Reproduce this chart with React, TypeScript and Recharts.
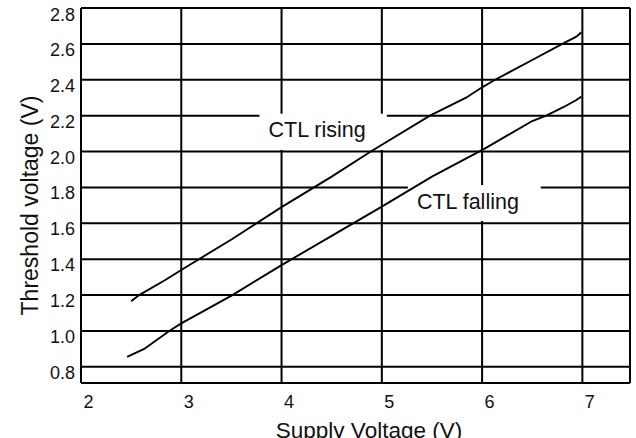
import React from 'react';
import { LineChart, Line, XAxis, YAxis, CartesianGrid, ReferenceArea, ReferenceLine, Label } from 'recharts';

const FONT = '"Liberation Sans", Arial, sans-serif';

const xTicks = [2, 3, 4, 5, 6, 7];
const yTicks = [0.8, 1.0, 1.2, 1.4, 1.6, 1.8, 2.0, 2.2, 2.4, 2.6, 2.8];
const X_MIN = 2;
const X_MAX = 7.475;
const Y_MIN = 0.71;
const Y_MAX = 2.8;

const risingV = [2.5, 2.58, 2.84, 3.0, 3.5, 4.0, 4.5, 4.89, 5.48, 5.84, 6.0, 6.13, 6.5, 6.8, 6.94, 6.99];
const risingT = [1.166, 1.2, 1.284, 1.34, 1.51, 1.69, 1.86, 2.0, 2.2, 2.3, 2.358, 2.4, 2.51, 2.6, 2.64, 2.665];

const fallingV = [2.46, 2.63, 2.88, 3.0, 3.51, 4.0, 4.5, 5.0, 5.5, 6.03, 6.5, 6.64, 6.81, 6.94, 6.99];
const fallingT = [0.856, 0.9, 1.0, 1.042, 1.2, 1.367, 1.53, 1.693, 1.86, 2.018, 2.17, 2.2, 2.247, 2.287, 2.306];

const risingLabel = 'CTL rising';
const fallingLabel = 'CTL falling';
const risingBox = { x1: 3.78, x2: 5.05, y1: 2.009, y2: 2.21 };
const fallingBox = { x1: 5.26, x2: 6.585, y1: 1.613, y2: 1.813 };

const risingData = risingV.map((v, i) => ({ v, t: risingT[i] }));
const fallingData = fallingV.map((v, i) => ({ v, t: fallingT[i] }));

const XTick = (props: any) => {
  const { x, y, payload } = props;
  return (
    <text x={x + 7.5} y={y + 24.5} textAnchor="middle" fontSize={18} fontFamily={FONT} fill="#111">
      {payload.value}
    </text>
  );
};

const YTick = (props: any) => {
  const { x, y, payload } = props;
  return (
    <text x={x} y={y + 12} textAnchor="end" fontSize={18} fontFamily={FONT} fill="#111">
      {Number(payload.value).toFixed(1)}
    </text>
  );
};

const XLabel = (props: any) => {
  const vb = props.viewBox;
  const cx = vb.x + vb.width / 2 + 13.5;
  return (
    <text x={cx} y={437.5} textAnchor="middle" fontSize={22.5} fontFamily={FONT} fill="#111">
      Supply Voltage (V)
    </text>
  );
};

const YLabel = (props: any) => {
  const vb = props.viewBox;
  const cy = vb.y + vb.height / 2 + 10;
  const cx = 38;
  return (
    <text x={cx} y={cy} transform={`rotate(-90, ${cx}, ${cy})`} textAnchor="middle" fontSize={23} fontFamily={FONT} fill="#111">
      Threshold voltage (V)
    </text>
  );
};

const BoxLabel = (props: any) => {
  const vb = props.viewBox;
  return (
    <text x={vb.x + 9} y={vb.y + 23.5} fontSize={21.5} fontFamily={FONT} fill="#111">
      {props.text}
    </text>
  );
};

export default function App() {
  return (
    <div style={{ position: 'absolute', left: 0, top: 0, width: 636, height: 438, background: '#fff' }}>
      <LineChart width={636} height={438} margin={{ top: 8, right: 6, bottom: 0, left: 0 }}>
        <CartesianGrid stroke="#000" strokeWidth={2} />
        <XAxis
          type="number"
          dataKey="v"
          domain={[X_MIN, X_MAX]}
          ticks={xTicks}
          allowDataOverflow
          height={55}
          tickSize={0}
          tickMargin={0}
          tickLine={false}
          axisLine={{ stroke: '#000', strokeWidth: 2 }}
          tick={<XTick />}
        >
          <Label content={<XLabel />} />
        </XAxis>
        <YAxis
          type="number"
          domain={[Y_MIN, Y_MAX]}
          ticks={yTicks}
          allowDataOverflow
          width={81}
          tickSize={0}
          tickMargin={6}
          tickLine={false}
          axisLine={{ stroke: '#000', strokeWidth: 2 }}
          tick={<YTick />}
        >
          <Label content={<YLabel />} />
        </YAxis>
        <ReferenceLine x={X_MAX} stroke="#000" strokeWidth={2} />
        <ReferenceArea {...risingBox} fill="#fff" fillOpacity={1} stroke="none" label={<BoxLabel text={risingLabel} />} />
        <ReferenceArea {...fallingBox} fill="#fff" fillOpacity={1} stroke="none" label={<BoxLabel text={fallingLabel} />} />
        <Line data={risingData} dataKey="t" type="linear" stroke="#000" strokeWidth={1.9} dot={false} isAnimationActive={false} />
        <Line data={fallingData} dataKey="t" type="linear" stroke="#000" strokeWidth={1.9} dot={false} isAnimationActive={false} />
      </LineChart>
    </div>
  );
}
